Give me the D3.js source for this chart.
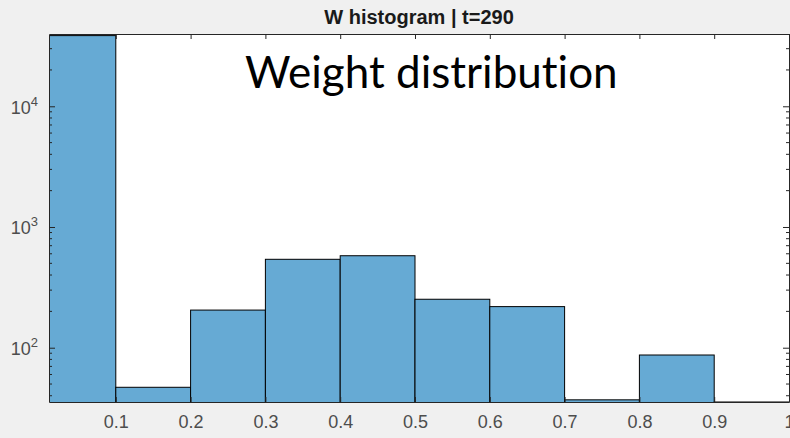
<!DOCTYPE html>
<html>
<head>
<meta charset="utf-8">
<title>W histogram</title>
<style>
  body { margin: 0; background: #f0f0f0; }
  svg { display: block; }
  .tick text { font-family: "Liberation Sans", Arial, sans-serif; font-size: 18px; fill: #4d4d4d; }
  .title { font-family: "Liberation Sans", Arial, sans-serif; font-size: 20px; font-weight: bold; fill: #1a1a1a; }
  .overlay { font-family: Lato, "Open Sans", sans-serif; font-size: 44px; fill: #000; font-variant-ligatures: none; }
</style>
<script src="https://cdn.jsdelivr.net/npm/d3@7"></script>
</head>
<body>
<div id="chart"></div>
<script>
// histogram bins (edges) and counts
var binEdges = [0.0107, 0.1, 0.2, 0.3, 0.4, 0.5, 0.6, 0.7, 0.8, 0.9, 1.0];
var counts = [38500, 47, 205, 540, 578, 252, 219, 37, 87, 35];
var xTicks = [0.1, 0.2, 0.3, 0.4, 0.5, 0.6, 0.7, 0.8, 0.9, 1];
var yTicks = [100, 1000, 10000];

var width = 790, height = 438;
var plotL = 49, plotR = 789, plotT = 34, plotB = 402;

var svg = d3.select('#chart').append('svg')
  .attr('width', width).attr('height', height);

var x = d3.scaleLinear().domain([0.0107, 1.0]).range([plotL, plotR]);
var y = d3.scaleLog().domain([35.5, 39700]).range([plotB, plotT]);

svg.append('rect')
  .attr('x', plotL).attr('y', plotT)
  .attr('width', plotR - plotL).attr('height', plotB - plotT)
  .attr('fill', '#fff');

svg.append('clipPath').attr('id', 'plotclip')
  .append('rect')
  .attr('x', plotL).attr('y', plotT - 1)
  .attr('width', plotR - plotL).attr('height', plotB - plotT + 1);

var bins = counts.map(function(c, i) {
  return { x0: binEdges[i], x1: binEdges[i + 1], n: c };
});

svg.append('g').attr('clip-path', 'url(#plotclip)')
  .selectAll('rect')
  .data(bins)
  .enter()
  .append('rect')
  .attr('x', function(d) { return x(d.x0); })
  .attr('y', function(d) { return Math.min(y(d.n), plotB); })
  .attr('width', function(d) { return x(d.x1) - x(d.x0); })
  .attr('height', function(d) { return Math.max(plotB - y(d.n), 0) + 2; })
  .attr('fill', '#66aad4')
  .attr('stroke', '#000')
  .attr('stroke-width', 1);

// minor ticks for the log axis
var minor = [];
for (var e = 1; e <= 4; e++) {
  for (var k = 2; k <= 9; k++) {
    var v = k * Math.pow(10, e);
    if (v > 35.5 && v < 39700) minor.push(v);
  }
}

var axisColor = '#262626';

// bottom axis
var xAxis = d3.axisBottom(x).tickValues(xTicks).tickSizeInner(-5).tickSizeOuter(0)
  .tickPadding(13).tickFormat(function(d) { return d === 1 ? '1' : d3.format('.1f')(d); });
var gx = svg.append('g').attr('transform', 'translate(0,' + plotB + ')').call(xAxis);
gx.select('.domain').attr('stroke', axisColor);
gx.selectAll('.tick line').attr('stroke', axisColor);

// top axis (ticks only)
var gt = svg.append('g').attr('transform', 'translate(0,' + plotT + ')')
  .call(d3.axisTop(x).tickValues(xTicks).tickSizeInner(-5).tickSizeOuter(0).tickFormat(''));
gt.select('.domain').attr('stroke', axisColor);
gt.selectAll('.tick line').attr('stroke', axisColor);

// left axis
var gy = svg.append('g').attr('transform', 'translate(' + plotL + ',0)')
  .call(d3.axisLeft(y).tickValues(yTicks).tickSizeInner(-6).tickSizeOuter(0).tickFormat(''));
gy.select('.domain').attr('stroke', axisColor);
gy.selectAll('.tick line').attr('stroke', axisColor);
gy.selectAll('.tick').append('text')
  .attr('x', -11).attr('y', 7)
  .attr('text-anchor', 'end')
  .html(function(d) {
    return '10<tspan dy="-8" font-size="13px">' + Math.round(Math.log10(d)) + '</tspan>';
  });
gy.selectAll('.minor').data(minor).enter().append('line')
  .attr('x1', 0).attr('x2', 3)
  .attr('y1', function(d) { return y(d); }).attr('y2', function(d) { return y(d); })
  .attr('stroke', axisColor);

// right axis
var gr = svg.append('g').attr('transform', 'translate(' + plotR + ',0)')
  .call(d3.axisRight(y).tickValues(yTicks).tickSizeInner(-6).tickSizeOuter(0).tickFormat(''));
gr.select('.domain').attr('stroke', axisColor);
gr.selectAll('.tick line').attr('stroke', axisColor);
gr.selectAll('.minor').data(minor).enter().append('line')
  .attr('x1', 0).attr('x2', -3)
  .attr('y1', function(d) { return y(d); }).attr('y2', function(d) { return y(d); })
  .attr('stroke', axisColor);

svg.append('text').attr('class', 'title')
  .attr('x', (plotL + plotR) / 2).attr('y', 24)
  .attr('text-anchor', 'middle')
  .text('W histogram | t=290');

svg.append('text').attr('class', 'overlay')
  .attr('x', 245).attr('y', 88)
  .text('Weight distribution');
</script>
</body>
</html>
